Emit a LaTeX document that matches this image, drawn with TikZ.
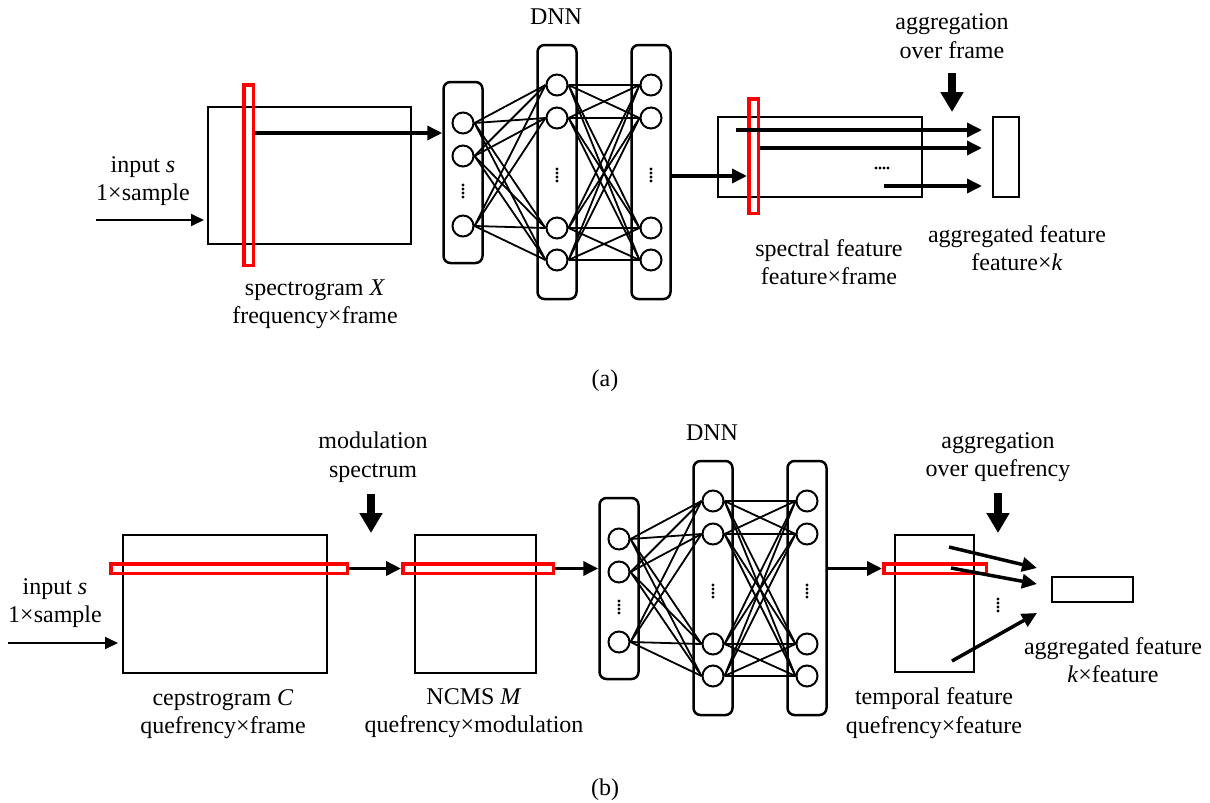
\documentclass[tikz,border=0pt]{standalone}
\usepackage{fontspec}
\setmainfont{Liberation Serif}
\usetikzlibrary{arrows.meta,calc}
\begin{document}
\begin{tikzpicture}[x=1pt,y=-1pt,
  font=\fontsize{24}{28.5}\selectfont,
  lbl/.style={align=center,inner sep=0pt},
  box/.style={draw,line width=2pt,inner sep=0pt},
  redbox/.style={draw=red,line width=3.5pt,inner sep=0pt},
  layer/.style={draw,line width=2.5pt,rounded corners=7pt,inner sep=0pt,minimum width=39pt},
  neuron/.style={circle,draw,line width=2pt,minimum size=21pt,inner sep=0pt,fill=white},
  conn/.style={line width=1.8pt},
  arr/.style={line width=3.5pt,-{Triangle[length=15pt,width=14pt]}},
  thinarr/.style={line width=2pt,-{Triangle[length=13pt,width=12pt]}},
  downarr/.style={line width=8pt,-{Triangle[length=20pt,width=22pt]}},
  dotmark/.style={fill=black}
]
\useasboundingbox (0,0) rectangle (1210,803);

% ================= (a) =================
\node[box,minimum width=203pt,minimum height=137pt] (spec) at (309.5,175.5) {};
\node[redbox,minimum width=9.5pt,minimum height=180.5pt] (specred) at (248.5,175) {};
\node[lbl] (inAtxt) at (143,181) {input \textit{s}\\1×sample};
\coordinate (inA) at (96,220);
\draw[thinarr] (inA) -- ($(inA -| spec.west)+(-3,0)$);
\node[lbl] (spectxt) at (315,304) {spectrogram \textit{X}\\frequency×frame};

% ================= DNNs =================
\foreach \p/\dx/\dy in {A/0/0,B/156/416}{
\begin{scope}[shift={(\dx,\dy)}]
  \node[layer,minimum height=181pt] (\p-L1) at (463,172.5) {};
  \node[layer,minimum height=254pt] (\p-L2) at (557,172) {};
  \node[layer,minimum height=254pt] (\p-L3) at (651,172) {};
  \node[lbl] (\p-dnn) at (556,17) {DNN};
  \foreach \i/\y in {1/123,2/156,3/226}
    \node[neuron] (\p-1-\i) at (463,\y) {};
  \foreach \i/\y in {1/85,2/118,3/228,4/260}{
    \node[neuron] (\p-2-\i) at (557,\y) {};
    \node[neuron] (\p-3-\i) at (651,\y) {};
  }
  \foreach \i in {1,2,3}
    \foreach \j in {1,2,3,4}
      \draw[conn] (\p-1-\i.east) -- (\p-2-\j.west);
  \foreach \i in {1,2,3,4}
    \foreach \j in {1,2,3,4}
      \draw[conn] (\p-2-\i.east) -- (\p-3-\j.west);
  \foreach \k in {0,1,2,3}{
    \fill[dotmark] (463,185+\k*4) circle (1.6pt);
    \fill[dotmark] (557,169+\k*4) circle (1.6pt);
    \fill[dotmark] (651,169+\k*4) circle (1.6pt);
  }
\end{scope}
}

\draw[arr] (specred.east |- 0,133) -- (A-L1.west |- 0,133);

% spectral feature
\node[box,minimum width=204pt,minimum height=80pt] (sf) at (820,157) {};
\node[redbox,minimum width=9.5pt,minimum height=114.5pt] (sfred) at (753.5,156) {};
\node[box,minimum width=26pt,minimum height=80pt] (agg) at (1006,157) {};
\draw[arr] (A-L3.east |- 0,176) -- (sfred.west |- 0,176);
\coordinate (s1) at (736,130);
\coordinate (s2) at (760,148);
\coordinate (s3) at (884,186);
\draw[arr] (s1) -- ($(s1 -| agg.west)+(-10,0)$);
\draw[arr] (s2) -- ($(s2 -| agg.west)+(-10,0)$);
\draw[arr] (s3) -- ($(s3 -| agg.west)+(-10,0)$);
\foreach \k in {0,1,2,3}
  \fill[dotmark] (876+\k*4,168) circle (1.6pt);
\node[lbl] (aggAtop) at (952,36) {aggregation\\over frame};
\coordinate (dA) at (952,73);
\draw[downarr] (dA) -- (952,112);
\node[lbl] (sftxt) at (829,262) {spectral feature\\feature×frame};
\node[lbl] (aggAtxt) at (1017,248) {aggregated feature\\feature×\textit{k}};
\node[lbl] (capa) at (605,381) {(a)};

% ================= (b) =================
\node[box,minimum width=204pt,minimum height=138pt] (ceps) at (225,604) {};
\node[redbox,minimum width=236.5pt,minimum height=9.5pt] (cepsred) at (229,568.5) {};
\node[lbl] (inBtxt) at (55,603) {input \textit{s}\\1×sample};
\coordinate (inB) at (8,643);
\draw[thinarr] (inB) -- ($(inB -| ceps.west)+(-4,0)$);
\node[lbl] (cepstxt) at (223,714) {cepstrogram \textit{C}\\quefrency×frame};

\node[box,minimum width=121pt,minimum height=138pt] (ncms) at (475.5,604) {};
\node[redbox,minimum width=150.5pt,minimum height=9.5pt] (ncmsred) at (478,568.5) {};
\draw[arr] (cepsred.east) -- (ncmsred.west);
\node[lbl] (modtxt) at (373,457) {modulation\\spectrum};
\draw[downarr] (371,494) -- (371,533);
\node[lbl] (ncmstxt) at (474,713) {NCMS \textit{M}\\quefrency×modulation};
\draw[arr] (ncmsred.east) -- (B-L1.west |- ncmsred.east);

\node[box,minimum width=79pt,minimum height=137pt] (temp) at (934.5,603.5) {};
\node[redbox,minimum width=102.5pt,minimum height=9.5pt] (tempred) at (935,568.5) {};
\draw[arr] (B-L3.east |- tempred.west) -- (tempred.west);
\node[box,minimum width=81pt,minimum height=25pt] (aggB) at (1092.5,589.5) {};
\coordinate (t1) at (949,547);
\coordinate (t2) at (951,568);
\coordinate (t3) at (952,661);
\coordinate (e1) at (1037,568);
\coordinate (e2) at (1037,584);
\coordinate (e3) at (1037,613);
\draw[arr] (t1) -- (e1);
\draw[arr] (t2) -- (e2);
\draw[arr] (t3) -- (e3);
\foreach \k in {0,1,2,3}
  \fill[dotmark] (998,599+\k*4) circle (1.6pt);
\node[lbl] (aggBtop) at (998,457) {aggregation\\over quefrency};
\draw[downarr] (998,493) -- (998,533);
\node[lbl] (temptxt) at (934,713) {temporal feature\\quefrency×feature};
\node[lbl] (aggBtxt) at (1113,660) {aggregated feature\\\textit{k}×feature};
\node[lbl] (capb) at (605,790) {(b)};
\end{tikzpicture}
\end{document}
